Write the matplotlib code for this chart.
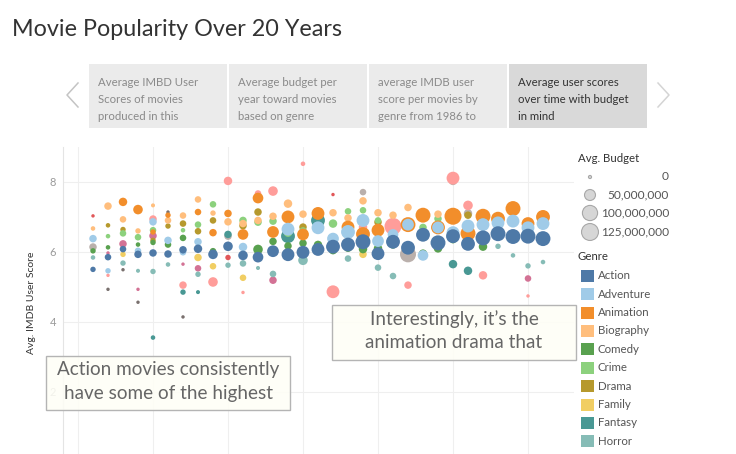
import matplotlib
matplotlib.use("Agg")
import matplotlib.pyplot as plt
from matplotlib.patches import Rectangle

plt.rcParams['font.family'] = ['Lato', 'DejaVu Sans']

# ---------------- data ----------------
genres = ["Action", "Adventure", "Animation", "Biography", "Comedy", "Crime",
          "Drama", "Family", "Fantasy", "Horror", "Musical", "Mystery",
          "Romance", "Sci-Fi", "Thriller"]
genre_colors = ["#4e79a7", "#a0cbe8", "#f28e2b", "#ffbe7d", "#59a14f", "#8cd17d",
                "#b6992d", "#f1ce63", "#499894", "#86bcb6", "#e15759", "#ff9d9a",
                "#79706e", "#bab0ac", "#d37295"]

action_years = list(range(1986, 2017))
action_scores = [5.50, 5.85, 6.08, 5.93, 5.97, 5.94, 6.06, 6.09, 5.93, 6.16, 5.90,
                 5.85, 6.02, 5.92, 5.99, 6.07, 6.15, 6.21, 6.29, 5.95, 6.29, 6.12,
                 6.49, 6.26, 6.45, 6.23, 6.40, 6.52, 6.44, 6.45, 6.38]
action_budget = [9, 15, 15, 21, 21, 21, 21, 28, 37, 37, 37, 47, 58, 70, 70, 70, 82,
                 82, 96, 70, 82, 82, 82, 96, 82, 82, 96, 96, 96, 96, 96]

adventure_years = [1986, 1987, 1989, 1990, 1991, 1992, 1993, 1996, 1999, 2001, 2002,
                   2003, 2004, 2005, 2006, 2007, 2008, 2009, 2010, 2011, 2012, 2013,
                   2014, 2015, 2016]
adventure_scores = [6.38, 5.46, 6.03, 6.86, 6.33, 5.99, 6.29, 6.14, 6.65, 6.69, 6.38,
                    6.57, 6.90, 6.31, 6.50, 6.78, 5.90, 6.70, 6.55, 6.74, 6.78, 6.83,
                    6.88, 6.69, 6.81]
adventure_budget = [21, 9, 15, 21, 21, 15, 21, 28, 70, 70, 58, 82, 70, 58, 47, 58, 47,
                    58, 70, 70, 70, 70, 70, 70, 70]

animation_years = [1988, 1989, 1990, 1991, 1993, 1994, 1995, 1996, 1997, 1998, 1999,
                   2000, 2001, 2003, 2004, 2005, 2007, 2008, 2009, 2010, 2011, 2012,
                   2013, 2014, 2015, 2016]
animation_scores = [7.43, 7.21, 6.57, 7.05, 7.14, 6.55, 7.10, 6.50, 7.54, 6.57, 7.00,
                    6.50, 7.10, 6.71, 6.51, 6.62, 6.78, 7.05, 6.70, 7.02, 6.53, 7.02,
                    6.95, 7.24, 6.81, 7.00]
animation_budget = [28, 37, 9, 9, 15, 21, 21, 47, 47, 58, 70, 58, 70, 70, 82, 70, 96,
                    96, 82, 126, 96, 96, 82, 96, 70, 82]

biography_years = [1986, 1987, 1988, 1989, 1990, 1991, 1992, 1993, 1994, 1995, 1996,
                   1997, 1998, 1999, 2000, 2002, 2003, 2004, 2005, 2006, 2007, 2009]
biography_scores = [6.67, 7.31, 6.93, 6.60, 7.33, 6.90, 7.04, 7.50, 7.11, 6.86, 6.81,
                    6.90, 7.02, 7.38, 7.08, 7.12, 6.97, 7.46, 7.12, 7.05, 7.27, 7.08]
biography_budget = [5, 21, 15, 9, 3, 15, 15, 15, 9, 21, 21, 21, 21, 28, 21, 21, 21, 21,
                    21, 21, 21, 21]

comedy_years = [1986, 1987, 1989, 1990, 1991, 1992, 1994, 1997, 1998, 1999, 2000, 2001,
                2002, 2003, 2004, 2005, 2006, 2008, 2009, 2010, 2012]
comedy_scores = [6.03, 6.13, 6.21, 6.27, 6.21, 6.40, 6.02, 6.07, 6.30, 6.17, 6.25, 6.20,
                 6.05, 6.12, 6.08, 6.10, 6.20, 5.95, 6.10, 6.35, 6.15]
comedy_budget = [9, 5, 5, 9, 15, 15, 15, 37, 21, 21, 21, 28, 28, 28, 28, 28, 21, 28, 28,
                 21, 28]

crime_years = [1987, 1988, 1989, 1990, 1992, 1993, 1994, 1996, 1997, 1998, 1999, 2000,
               2002, 2003, 2004, 2005, 2008, 2009]
crime_scores = [6.45, 6.53, 6.42, 6.62, 6.62, 6.78, 7.36, 6.90, 6.85, 6.88, 6.55, 6.60,
                6.81, 7.16, 7.19, 6.90, 6.70, 6.95]
crime_budget = [5, 15, 15, 15, 5, 15, 15, 21, 21, 21, 28, 21, 28, 15, 15, 15, 21, 21]

drama_years = [1987, 1988, 1990, 1991, 1992, 1993, 1994, 1996, 1997, 2000, 2005, 2011]
drama_scores = [6.76, 6.64, 6.33, 6.74, 6.81, 6.59, 6.90, 6.75, 7.14, 6.71, 6.85, 7.05]
drama_budget = [5, 9, 9, 9, 15, 15, 15, 21, 21, 21, 21, 21]

family_years = [1988, 1993, 1994, 1996, 2004]
family_scores = [5.93, 5.84, 5.59, 5.26, 5.93]
family_budget = [9, 21, 15, 15, 21]

fantasy_years = [1990, 1992, 1993, 1995, 1999, 2001, 2010, 2011]
fantasy_scores = [3.55, 4.85, 4.85, 6.50, 6.45, 6.90, 5.65, 5.46]
fantasy_budget = [5, 9, 3, 21, 82, 82, 28, 28]

horror_years = [1986, 1988, 1989, 1990, 1991, 1993, 1995, 1996, 1997, 1998, 2000, 2003,
                2005, 2006, 2013, 2014, 2015, 2016]
horror_scores = [5.84, 5.68, 5.46, 5.44, 5.64, 5.36, 5.62, 5.67, 5.54, 5.37, 5.76, 5.81,
                 5.55, 5.31, 6.16, 5.90, 5.60, 5.71]
horror_budget = [5, 9, 3, 9, 5, 9, 9, 15, 3, 15, 37, 15, 15, 15, 9, 5, 9, 5]

musical_years = [1986, 1995, 2002]
musical_scores = [7.03, 5.84, 7.64]
musical_budget = [1, 9, 1]

mystery_years = [1987, 1990, 1992, 1994, 1995, 1996, 1997, 1998, 2000, 2002, 2004, 2006,
                 2007, 2010, 2011, 2012, 2015]
mystery_scores = [5.33, 6.94, 5.05, 5.14, 8.03, 4.84, 7.67, 7.74, 8.52, 4.86, 6.71, 6.73,
                  5.05, 8.11, 7.33, 5.33, 4.74]
mystery_budget = [1, 21, 21, 37, 28, 1, 15, 37, 5, 70, 28, 126, 21, 70, 37, 28, 1]

romance_years = [1987, 1988, 1989, 1991, 1992]
romance_scores = [4.93, 5.49, 4.56, 7.14, 4.14]
romance_budget = [1, 1, 1, 1, 1]

scifi_years = [1986, 1995, 2004, 2007, 2010, 2011]
scifi_scores = [6.14, 6.45, 7.71, 5.93, 8.03, 7.10]
scifi_budget = [21, 21, 15, 111, 28, 28]

thriller_years = [1987, 1988, 1989, 1990, 1992, 1993, 1998, 2015]
thriller_scores = [5.97, 6.23, 4.93, 6.46, 5.65, 5.53, 5.19, 5.24]
thriller_budget = [1, 21, 1, 21, 1, 15, 21, 15]

size_legend_values = [0, 50, 100, 125]
size_legend_labels = ["0", "50,000,000", "100,000,000", "125,000,000"]

y_ticks = [0, 2, 4, 6, 8]
x_grid_years = [1985, 1990, 1995, 2000, 2005, 2010, 2015]

story_points = [
    ["Average IMBD User", "Scores of movies", "produced in this"],
    ["Average budget per", "year toward movies", "based on genre"],
    ["average IMDB user", "score per movies by", "genre from 1986 to"],
    ["Average user scores", "over time with budget", "in mind"],
]
title_text = "Movie Popularity Over 20 Years"
note_a = ["Action movies consistently", "have some of the highest"]
note_b = ["Interestingly, it\u2019s the", "animation drama that"]

series = [
    (action_years, action_scores, action_budget),
    (adventure_years, adventure_scores, adventure_budget),
    (animation_years, animation_scores, animation_budget),
    (biography_years, biography_scores, biography_budget),
    (comedy_years, comedy_scores, comedy_budget),
    (crime_years, crime_scores, crime_budget),
    (drama_years, drama_scores, drama_budget),
    (family_years, family_scores, family_budget),
    (fantasy_years, fantasy_scores, fantasy_budget),
    (horror_years, horror_scores, horror_budget),
    (musical_years, musical_scores, musical_budget),
    (mystery_years, mystery_scores, mystery_budget),
    (romance_years, romance_scores, romance_budget),
    (scifi_years, scifi_scores, scifi_budget),
    (thriller_years, thriller_scores, thriller_budget),
]


def msize(m):
    return 5 + 1.15 * m


# ---------------- figure ----------------
W, H = 736, 454
fig = plt.figure(figsize=(W / 100, H / 100), dpi=100)

# main plot area in pixels
px_l, px_r, px_t, px_b = 63, 574, 147, 461.7
ax = fig.add_axes([px_l / W, (H - px_b) / H, (px_r - px_l) / W, (px_b - px_t) / H])
ax.set_xlim(1984, 1984 + (px_r - px_l) / 15.0)
ax.set_ylim(0, 9)

for i in range(len(series) - 1, -1, -1):
    yrs, sc, bd = series[i]
    ax.scatter(yrs, sc, s=[msize(b) for b in bd], color=genre_colors[i],
               linewidths=0, zorder=3)

ax.set_yticks(y_ticks)
ax.set_xticks(x_grid_years)
ax.set_xticklabels([])
ax.tick_params(axis='both', length=0)
ax.tick_params(axis='y', labelsize=8, labelcolor='#9a9a9a', pad=5)
ax.grid(True, color='#efefef', linewidth=0.8, zorder=0)
for sp in ['top', 'right', 'bottom']:
    ax.spines[sp].set_visible(False)
ax.spines['left'].set_color('#e4e4e4')
ax.spines['left'].set_linewidth(0.8)
ax.set_ylabel("Avg. IMDB User Score", fontsize=7.5, color='#333333')
ax.yaxis.set_label_coords((36 - px_l) / (px_r - px_l), 0.505)

# ---------------- overlay (pixel coordinates) ----------------
ov = fig.add_axes([0, 0, 1, 1], zorder=10)
ov.set_xlim(0, W)
ov.set_ylim(H, 0)
ov.axis('off')
ov.patch.set_alpha(0)

ov.text(12, 29, title_text, fontsize=16.8, color='#333333', va='center', ha='left')

# story navigator
box_x = [89, 229, 369, 509]
for i, lines in enumerate(story_points):
    sel = (i == 3)
    rect = Rectangle((box_x[i], 64), 138, 64, facecolor='#d9d9d9' if sel else '#ebebeb',
                     edgecolor='none')
    ov.add_patch(rect)
    for j, ln in enumerate(lines):
        t = ov.text(box_x[i] + 9, 83 + j * 16.7, ln, fontsize=8.2,
                    color='#333333' if sel else '#8a8a8a', va='center', ha='left')
        t.set_clip_path(rect)
ov.plot([78, 67, 78], [83, 95, 107], color='#c4c4c4', lw=1.1)
ov.plot([658, 669, 658], [83, 95, 107], color='#d4d4d4', lw=1.1)

# annotations
for (bx, by, bw, bh, lines, ys) in [(46, 356, 244, 54, note_a, (370, 394)),
                                     (332, 305, 244, 55, note_b, (319, 343))]:
    ov.add_patch(Rectangle((bx, by), bw, bh, facecolor=(0.996, 0.996, 0.965, 0.88),
                           edgecolor='#b4b4b4', lw=1.0))
    for ln, yy in zip(lines, ys):
        ov.text(bx + bw / 2, yy, ln, fontsize=13.6, color='#666666', ha='center',
                va='center')

# size legend
ov.text(578, 159, "Avg. Budget", fontsize=8.2, color='#333333', va='center')
size_y = [177, 195, 213, 232]
ov.scatter([590] * 4, size_y, s=[msize(v) for v in size_legend_values],
           facecolor='#d6d6d6', edgecolor='#a8a8a8', linewidths=0.8)
for yy, lab in zip(size_y, size_legend_labels):
    ov.text(669, yy, lab, fontsize=8.6, color='#555555', ha='right', va='center')

# genre legend (only the rows that fit in the frame are visible)
ov.text(578, 257, "Genre", fontsize=8.2, color='#333333', va='center')
for i, g in enumerate(genres[:11]):
    yy = 275.7 + 18.4 * i
    ov.add_patch(Rectangle((581, yy - 6), 12.5, 12, facecolor=genre_colors[i],
                           edgecolor='none'))
    if yy + 6 < H:
        ov.text(598, yy, g, fontsize=8.3, color='#555555', ha='left', va='center')

fig.savefig("out.png", dpi=100)
